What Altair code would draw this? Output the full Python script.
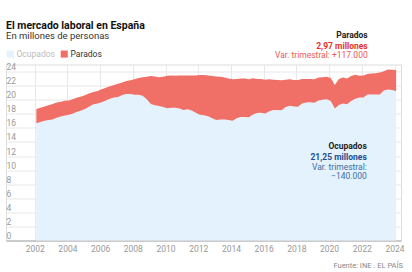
import altair as alt
import pandas as pd

# Encuesta de Población Activa, trimestral 2002T1-2024T1 (millones de personas)
years = list(range(2002, 2025))

ocupados = [
    16.65, 16.85, 17.00, 17.10,   # 2002
    17.20, 17.45, 17.60, 17.75,   # 2003
    17.85, 18.05, 18.30, 18.45,   # 2004
    18.70, 19.05, 19.35, 19.45,   # 2005
    19.65, 19.90, 20.15, 20.30,   # 2006
    20.40, 20.65, 20.80, 20.80,   # 2007
    20.70, 20.70, 20.55, 20.05,   # 2008
    19.40, 19.20, 19.10, 18.95,   # 2009
    18.80, 18.85, 18.85, 18.75,   # 2010
    18.55, 18.65, 18.45, 18.15,   # 2011
    17.85, 17.80, 17.65, 17.35,   # 2012
    17.10, 17.20, 17.20, 17.10,   # 2013
    17.00, 17.35, 17.55, 17.55,   # 2014
    17.50, 17.90, 18.10, 18.15,   # 2015
    18.05, 18.35, 18.55, 18.55,   # 2016
    18.50, 18.95, 19.15, 19.05,   # 2017
    19.00, 19.45, 19.60, 19.65,   # 2018
    19.55, 19.90, 20.00, 20.05,   # 2019
    19.80, 18.75, 19.25, 19.45,   # 2020
    19.35, 19.80, 20.15, 20.30,   # 2021
    20.30, 20.75, 20.75, 20.75,   # 2022
    20.75, 21.30, 21.45, 21.39,   # 2023
    21.25,                        # 2024
]

parados = [
    2.03, 2.00, 2.05, 2.10,
    2.20, 2.15, 2.10, 2.10,
    2.05, 2.05, 2.00, 2.00,
    1.95, 1.85, 1.75, 1.80,
    1.85, 1.80, 1.75, 1.80,
    1.85, 1.80, 1.85, 1.95,
    2.20, 2.40, 2.65, 3.20,
    3.95, 4.10, 4.10, 4.30,
    4.60, 4.60, 4.55, 4.70,
    4.90, 4.80, 5.00, 5.30,
    5.65, 5.70, 5.80, 6.00,
    6.20, 6.05, 5.95, 5.90,
    5.90, 5.60, 5.45, 5.45,
    5.40, 5.15, 4.85, 4.80,
    4.80, 4.55, 4.30, 4.25,
    4.25, 3.90, 3.75, 3.75,
    3.80, 3.50, 3.35, 3.30,
    3.35, 3.25, 3.20, 3.20,
    3.30, 3.35, 3.70, 3.70,
    3.65, 3.55, 3.40, 3.10,
    3.15, 2.90, 2.98, 3.00,
    3.10, 2.75, 2.85, 2.853,
    2.97,
]

series_names = ["Ocupados", "Parados"]
series_colors = ["#e3f2fc", "#f06f67"]
tick_years = list(range(2002, 2025, 2))
tick_values = list(range(0, 25, 2))

# quarter position on a decimal-year axis
t = [y + q * 0.25 + 0.1 for y in years for q in range(4)][: len(ocupados)]

rows = []
for ti, o, p in zip(t, ocupados, parados):
    rows.append({"t": ti, "serie": "Ocupados", "lo": 0.0, "hi": o})
    rows.append({"t": ti, "serie": "Parados", "lo": o, "hi": o + p})
df = pd.DataFrame(rows)


def es_num(v, dec=2):
    return f"{v:.{dec}f}".replace(".", ",")


def es_miles(v):
    n = round(v * 1_000_000)
    sign = "+" if n >= 0 else "\u2212"
    return sign + f"{abs(n):,}".replace(",", ".")


var_parados = parados[-1] - parados[-2]
var_ocupados = ocupados[-1] - ocupados[-2]

FONT = "Roboto"

areas = alt.Chart(df).mark_area(interpolate="linear").encode(
    x=alt.X(
        "t:Q",
        scale=alt.Scale(domain=[2000.245, 2024.397], nice=False, zero=False),
        axis=alt.Axis(
            values=tick_years, format="d", title=None, grid=True,
            gridColor="#e8e8e8", domain=True, domainColor="#aaaaaa",
            ticks=False, tickSize=0, labelColor="#999999", labelFontSize=8.5,
            labelPadding=4, labelFont=FONT,
        ),
    ),
    y=alt.Y(
        "hi:Q",
        scale=alt.Scale(domain=[0, 25], nice=False),
        axis=alt.Axis(
            values=tick_values, title=None, grid=True, gridColor="#e8e8e8",
            domain=False, ticks=False, tickSize=0, labelAlign="left",
            labelBaseline="alphabetic", labelOffset=-2, labelPadding=0,
            labelColor="#999999", labelFontSize=8.5, labelFont=FONT,
        ),
    ),
    y2="lo:Q",
    color=alt.Color(
        "serie:N",
        scale=alt.Scale(domain=series_names, range=series_colors),
        legend=alt.Legend(
            title=None, orient="none", legendX=0, legendY=-14.8,
            direction="horizontal", symbolType="square", symbolSize=50,
            symbolStrokeWidth=0, labelFontSize=8.5, labelFont=FONT,
            labelColor={"expr": "datum.label == 'Ocupados' ? '#bdbdbd' : '#333333'"},
            columnPadding=5, symbolOffset=0, labelOffset=2,
        ),
    ),
    order=alt.Order("serie:N"),
)


def label(txt, x, y, color, bold=False, size=8.5):
    return alt.Chart(pd.DataFrame({"txt": [txt]})).mark_text(
        align="right", baseline="middle", font=FONT, fontSize=size,
        fontWeight="bold" if bold else "normal", color=color,
    ).encode(text="txt:N", x=alt.value(x), y=alt.value(y))


notes = [
    label("Parados", 361.7, -29.5, "#222222", True),
    label(f"{es_num(parados[-1])} millones", 361.7, -18.8, "#e8322a", True),
    label(f"Var. trimestral: {es_miles(var_parados)}", 361.7, -9.5, "#ea5a52"),
    label("Ocupados", 360.8, 81.5, "#222222", True),
    label(f"{es_num(ocupados[-1])} millones", 360.8, 92.2, "#1d4f8f", True),
    label("Var. trimestral:", 360.8, 102.2, "#3d6da6"),
    label(es_miles(var_ocupados), 360.8, 111.5, "#3d6da6"),
    label("Fuente: INE . EL PAÍS", 397, 201.2, "#888888", size=7.5),
]

chart = alt.layer(areas, *notes).properties(
    width=395,
    height=176,
    padding={"left": 6, "top": 64.5, "right": 11, "bottom": 31.5},
    autosize=alt.AutoSizeParams(type="none"),
    title=alt.Title(
        "El mercado laboral en España",
        subtitle="En millones de personas",
        anchor="start", frame="group", offset=-9.5,
        font=FONT, fontSize=10.5, fontWeight="bold", color="#111111",
        subtitleFont=FONT, subtitleFontSize=9.5, subtitleColor="#333333",
        subtitlePadding=0,
    ),
).configure_view(stroke=None).configure(background="white")

chart.save("out.html", embed_options={"renderer": "svg", "actions": False})
